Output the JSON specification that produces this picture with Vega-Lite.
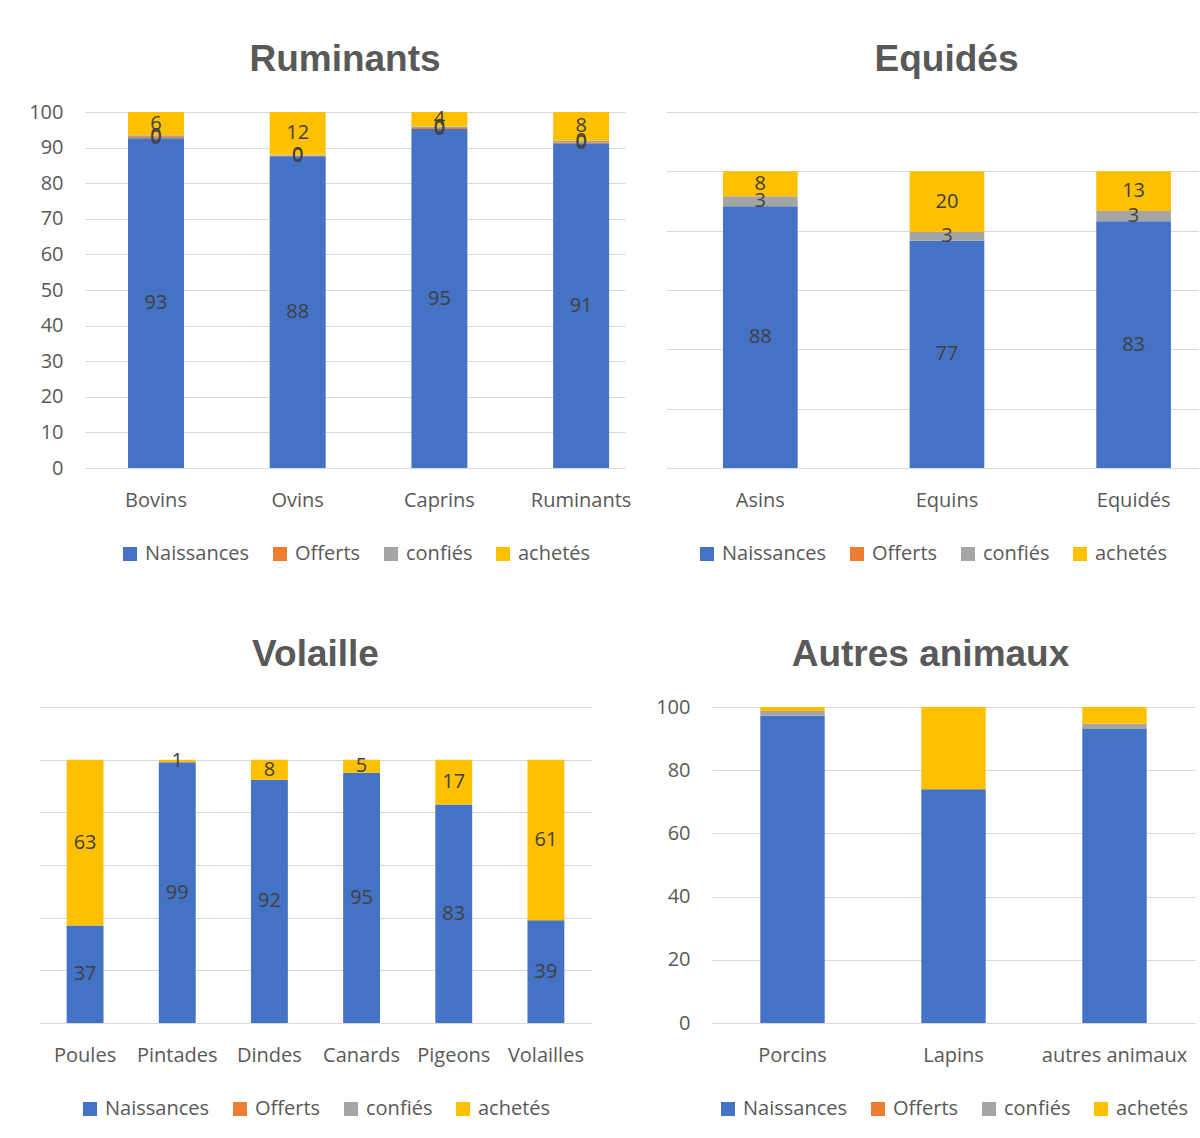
{
  "$schema": "https://vega.github.io/schema/vega-lite/v6.json",
  "padding": {"left": 28, "top": 41, "right": 0, "bottom": 0},
  "autosize": {"type": "pad"},
  "background": "white",
  "datasets": {
    "rum": [
      {"cat": "Bovins", "serie": "Naissances", "val": 92.6},
      {"cat": "Bovins", "serie": "Offerts", "val": 0.4},
      {"cat": "Bovins", "serie": "confiés", "val": 0.49},
      {"cat": "Bovins", "serie": "achetés", "val": 6.49},
      {"cat": "Ovins", "serie": "Naissances", "val": 87.6},
      {"cat": "Ovins", "serie": "Offerts", "val": 0.2},
      {"cat": "Ovins", "serie": "confiés", "val": 0.2},
      {"cat": "Ovins", "serie": "achetés", "val": 12.0},
      {"cat": "Caprins", "serie": "Naissances", "val": 95.2},
      {"cat": "Caprins", "serie": "Offerts", "val": 0.3},
      {"cat": "Caprins", "serie": "confiés", "val": 0.45},
      {"cat": "Caprins", "serie": "achetés", "val": 4.05},
      {"cat": "Ruminants", "serie": "Naissances", "val": 91.2},
      {"cat": "Ruminants", "serie": "Offerts", "val": 0.3},
      {"cat": "Ruminants", "serie": "confiés", "val": 0.45},
      {"cat": "Ruminants", "serie": "achetés", "val": 8.05}
    ],
    "equ": [
      {"cat": "Asins", "serie": "Naissances", "val": 88.2},
      {"cat": "Asins", "serie": "confiés", "val": 3.4},
      {"cat": "Asins", "serie": "achetés", "val": 8.4},
      {"cat": "Equins", "serie": "Naissances", "val": 76.6},
      {"cat": "Equins", "serie": "confiés", "val": 3.0},
      {"cat": "Equins", "serie": "achetés", "val": 20.4},
      {"cat": "Equidés", "serie": "Naissances", "val": 83.2},
      {"cat": "Equidés", "serie": "confiés", "val": 3.4},
      {"cat": "Equidés", "serie": "achetés", "val": 13.4}
    ],
    "vol": [
      {"cat": "Poules", "serie": "Naissances", "val": 37},
      {"cat": "Poules", "serie": "achetés", "val": 63},
      {"cat": "Pintades", "serie": "Naissances", "val": 99},
      {"cat": "Pintades", "serie": "achetés", "val": 1},
      {"cat": "Dindes", "serie": "Naissances", "val": 92.4},
      {"cat": "Dindes", "serie": "achetés", "val": 7.6},
      {"cat": "Canards", "serie": "Naissances", "val": 95},
      {"cat": "Canards", "serie": "achetés", "val": 5},
      {"cat": "Pigeons", "serie": "Naissances", "val": 83},
      {"cat": "Pigeons", "serie": "achetés", "val": 17},
      {"cat": "Volailles", "serie": "Naissances", "val": 39},
      {"cat": "Volailles", "serie": "achetés", "val": 61}
    ],
    "aut": [
      {"cat": "Porcins", "serie": "Naissances", "val": 97.2},
      {"cat": "Porcins", "serie": "confiés", "val": 1.5},
      {"cat": "Porcins", "serie": "achetés", "val": 1.3},
      {"cat": "Lapins", "serie": "Naissances", "val": 74},
      {"cat": "Lapins", "serie": "achetés", "val": 26},
      {"cat": "autres animaux", "serie": "Naissances", "val": 93},
      {"cat": "autres animaux", "serie": "confiés", "val": 1.7},
      {"cat": "autres animaux", "serie": "achetés", "val": 5.3}
    ]
  },
  "concat": [
    {
      "hconcat": [
        {
          "hconcat": [
            {"width": 1, "height": 1, "data": {"values": []}, "mark": {"type": "point"}},
            {
              "title": {"text": "Ruminants", "dx": -10, "offset": 23},
              "width": 540,
              "height": 356,
              "data": {"name": "rum"},
              "transform": [{"calculate": "indexof(['Naissances','Offerts','confiés','achetés'], datum.serie)", "as": "k"}],
              "encoding": {
                "x": {"field": "cat", "type": "nominal", "sort": null, "title": null,
                      "scale": {"paddingInner": 0.605, "paddingOuter": 0.208, "align": 0.73}},
                "y": {"field": "val", "type": "quantitative", "stack": "zero", "title": null,
                      "scale": {"domain": [0, 100], "nice": false},
                      "axis": {"values": [0, 10, 20, 30, 40, 50, 60, 70, 80, 90, 100]}},
                "order": {"field": "k", "type": "quantitative"}
              },
              "layer": [
                {"mark": {"type": "bar"},
                 "encoding": {"color": {"field": "serie", "type": "nominal", "title": null,
                   "scale": {"domain": ["Naissances", "Offerts", "confiés", "achetés"], "range": ["#4472C4", "#ED7D31", "#A5A5A5", "#FFC000"]}}}},
                {"mark": {"type": "text", "fontSize": 20, "font": "Open Sans", "color": "#404040", "baseline": "middle"},
                 "encoding": {"y": {"field": "val", "type": "quantitative", "stack": "zero", "bandPosition": 0.5},
                              "text": {"field": "val", "type": "quantitative", "format": ".0f"}}}
              ]
            }
          ],
          "spacing": -12,
          "resolve": {"scale": {"color": "independent", "y": "independent", "x": "independent"}, "legend": {"color": "independent"}}
        },
        {
          "title": {"text": "Equidés", "dx": 14, "offset": 33},
          "width": 533,
          "height": 356,
          "data": {"name": "equ"},
          "transform": [{"calculate": "indexof(['Naissances','Offerts','confiés','achetés'], datum.serie)", "as": "k"}],
          "encoding": {
            "x": {"field": "cat", "type": "nominal", "sort": null, "title": null,
                  "scale": {"paddingInner": 0.6, "paddingOuter": 0.228, "align": 0.67}},
            "y": {"field": "val", "type": "quantitative", "stack": "zero", "title": null,
                  "scale": {"domain": [0, 120], "nice": false},
                  "axis": {"values": [0, 20, 40, 60, 80, 100, 120], "labels": false}},
            "order": {"field": "k", "type": "quantitative"}
          },
          "layer": [
            {"mark": {"type": "bar"},
             "encoding": {"color": {"field": "serie", "type": "nominal", "title": null,
               "scale": {"domain": ["Naissances", "Offerts", "confiés", "achetés"], "range": ["#4472C4", "#ED7D31", "#A5A5A5", "#FFC000"]}}}},
            {"mark": {"type": "text", "fontSize": 20, "font": "Open Sans", "color": "#404040", "baseline": "middle"},
             "encoding": {"y": {"field": "val", "type": "quantitative", "stack": "zero", "bandPosition": 0.5},
                          "text": {"field": "val", "type": "quantitative", "format": ".0f"}}}
          ]
        }
      ],
      "spacing": 35,
      "resolve": {"scale": {"color": "independent", "y": "independent", "x": "independent"}, "legend": {"color": "independent"}}
    },
    {
      "hconcat": [
        {
          "title": {"text": "Volaille", "offset": 33},
          "width": 553,
          "height": 316,
          "data": {"name": "vol"},
          "transform": [{"calculate": "indexof(['Naissances','Offerts','confiés','achetés'], datum.serie)", "as": "k"}],
          "encoding": {
            "x": {"field": "cat", "type": "nominal", "sort": null, "title": null,
                  "scale": {"paddingInner": 0.6, "paddingOuter": 0.3}},
            "y": {"field": "val", "type": "quantitative", "stack": "zero", "title": null,
                  "scale": {"domain": [0, 120], "nice": false},
                  "axis": {"values": [0, 20, 40, 60, 80, 100, 120], "labels": false}},
            "order": {"field": "k", "type": "quantitative"}
          },
          "layer": [
            {"mark": {"type": "bar"},
             "encoding": {"color": {"field": "serie", "type": "nominal", "title": null,
               "scale": {"domain": ["Naissances", "Offerts", "confiés", "achetés"], "range": ["#4472C4", "#ED7D31", "#A5A5A5", "#FFC000"]}}}},
            {"mark": {"type": "text", "fontSize": 20, "font": "Open Sans", "color": "#404040", "baseline": "middle"},
             "encoding": {"y": {"field": "val", "type": "quantitative", "stack": "zero", "bandPosition": 0.5},
                          "text": {"field": "val", "type": "quantitative", "format": ".0f"}}}
          ]
        },
        {
          "title": {"text": "Autres animaux", "dx": -23, "offset": 23},
          "width": 483,
          "height": 316,
          "data": {"name": "aut"},
          "transform": [{"calculate": "indexof(['Naissances','Offerts','confiés','achetés'], datum.serie)", "as": "k"}],
          "mark": {"type": "bar"},
          "encoding": {
            "x": {"field": "cat", "type": "nominal", "sort": null, "title": null,
                  "scale": {"paddingInner": 0.6, "paddingOuter": 0.3}},
            "y": {"field": "val", "type": "quantitative", "stack": "zero", "title": null,
                  "scale": {"domain": [0, 100], "nice": false},
                  "axis": {"values": [0, 20, 40, 60, 80, 100]}},
            "order": {"field": "k", "type": "quantitative"},
            "color": {"field": "serie", "type": "nominal", "title": null,
               "scale": {"domain": ["Naissances", "Offerts", "confiés", "achetés"], "range": ["#4472C4", "#ED7D31", "#A5A5A5", "#FFC000"]}}
          }
        }
      ],
      "spacing": 63,
      "resolve": {"scale": {"color": "independent", "y": "independent", "x": "independent"}, "legend": {"color": "independent"}}
    }
  ],
  "columns": 1,
  "align": "none",
  "spacing": 72,
  "resolve": {"scale": {"color": "independent", "y": "independent", "x": "independent"}, "legend": {"color": "independent"}},
  "config": {
    "view": {"stroke": null},
    "font": "Open Sans",
    "title": {"font": "Liberation Sans", "fontSize": 37, "fontWeight": "bold", "color": "#595959", "anchor": "middle", "frame": "group"},
    "axis": {"labelFont": "Open Sans", "labelFontSize": 20, "labelColor": "#595959", "ticks": false, "domain": false, "gridColor": "#D9D9D9", "gridWidth": 1, "minExtent": 0},
    "axisX": {"labelPadding": 22, "labelAngle": 0, "grid": false, "labelLimit": 300},
    "axisY": {"labelPadding": 22, "grid": true},
    "legend": {"orient": "bottom", "direction": "horizontal", "labelFont": "Open Sans", "labelFontSize": 20, "labelColor": "#595959",
               "symbolType": "square", "symbolSize": 196, "symbolStrokeWidth": 0, "labelOffset": 5, "columnPadding": 20, "offset": 34,
               "layout": {"bottom": {"anchor": "middle"}}}
  }
}
